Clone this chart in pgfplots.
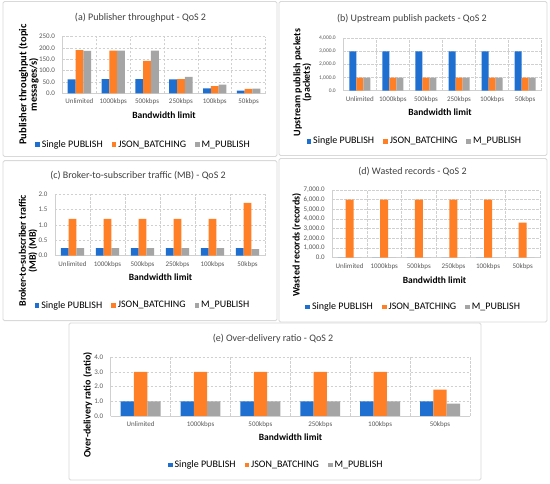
\documentclass[border=0pt]{standalone}
\usepackage{fontspec}
\setmainfont{Carlito}
\usepackage{pgfplots}
\pgfplotsset{compat=1.18}
\definecolor{cblue}{HTML}{1F6FD0}
\definecolor{corange}{HTML}{FF7F27}
\definecolor{cgray}{HTML}{A5A5A5}
\definecolor{gridc}{HTML}{D0D0D0}
\definecolor{boxc}{HTML}{D9D9D9}
\definecolor{txt}{HTML}{404040}
\definecolor{tick}{HTML}{595959}
\pgfplotsset{
  panel/.style={
    scale only axis,
    ybar=0pt,
    bar width=#1,
    every axis plot post/.append style={draw=none,
      legend image code/.code={\path[##1,draw=none] (0pt,-2.3pt) rectangle (4.6pt,2.3pt);}},
    xmin=-0.5, xmax=5.5, ymin=0,
    xtick={0,1,2,3,4,5},
    xticklabels={Unlimited,1000kbps,500kbps,250kbps,100kbps,50kbps},
    minor xtick={-0.5,0.5,1.5,2.5,3.5,4.5,5.5},
    xminorgrids=true, ymajorgrids=true, xmajorgrids=false,
    major grid style={gridc, dash pattern=on 2.5pt off 1.5pt, line width=0.6pt},
    minor grid style={gridc, dash pattern=on 2.5pt off 1.5pt, line width=0.6pt},
    axis x line=bottom, axis y line=left,
    axis line style={-, draw=gridc, line width=0.7pt},
    major tick length=0pt, minor tick length=0pt,
    /pgf/number format/assume math mode=true,
    tick label style={font=\fontsize{7}{8}\selectfont, text=tick},
    xticklabel style={yshift=-2pt},
    yticklabel style={xshift=-4pt, /pgf/number format/fixed, /pgf/number format/fixed zerofill, /pgf/number format/precision=1, /pgf/number format/1000 sep={,}},
    legend columns=3,
    legend style={draw=none, fill=none, anchor=center, font=\fontsize{10}{12}\selectfont,
      /tikz/every even column/.append style={column sep=7pt}},
  }
}
\begin{document}
\begin{tikzpicture}[x=1pt,y=1pt]
\path[use as bounding box, fill=white] (0,0) rectangle (550,484);
% panel frames
\draw[boxc, line width=0.9pt, rounded corners=1.5pt] (3,482.5) rectangle (277,327.5);
\draw[boxc, line width=0.9pt, rounded corners=1.5pt] (279,482.5) rectangle (547,328.5);
\draw[boxc, line width=0.9pt, rounded corners=1.5pt] (3,323.3) rectangle (277,163.3);
\draw[boxc, line width=0.9pt, rounded corners=1.5pt] (279,325.5) rectangle (547,162);
\draw[boxc, line width=0.9pt, rounded corners=1.5pt] (69,161) rectangle (481,4);

% (a)
\begin{axis}[panel=7.8pt, at={(62.5pt,390.7pt)}, anchor=south west, width=203pt, height=56.6pt,
  ymax=250, ytick={0,50,...,250},
  legend style={at={(axis description cs:0.399,-0.905)}}]
\addplot[fill=cblue] coordinates {(0,62) (1,63) (2,63) (3,62) (4,22) (5,12)};
\addplot[fill=corange] coordinates {(0,191) (1,189) (2,143) (3,63) (4,32) (5,19)};
\addplot[fill=cgray] coordinates {(0,187) (1,188) (2,188) (3,72) (4,38) (5,21)};
\legend{Single PUBLISH, JSON\_BATCHING, M\_PUBLISH}
\end{axis}
\node[font=\fontsize{10}{12}\selectfont, text=txt] at (140.5,466.7) {(a) Publisher throughput - QoS 2};
\node[font=\bfseries\fontsize{9.5}{11}\selectfont] at (164,368.3) {Bandwidth limit};
\node[rotate=90, align=center, font=\bfseries\fontsize{10.5}{10.5}\selectfont] at (28.5,399.5) {Publisher throughput (topic\\messages/s)};

% (b)
\begin{axis}[panel=7pt, at={(343.3pt,393.3pt)}, anchor=south west, width=198.4pt, height=52.4pt,
  ymax=4000, ytick={0,1000,...,4000},
  yticklabel style={font=\fontsize{5.5}{6}\selectfont},
  legend style={at={(axis description cs:0.361,-0.965)}}]
\addplot[fill=cblue] coordinates {(0,3000) (1,3000) (2,3000) (3,3000) (4,3000) (5,3000)};
\addplot[fill=corange] coordinates {(0,1000) (1,1000) (2,1000) (3,1000) (4,1000) (5,1000)};
\addplot[fill=cgray] coordinates {(0,1000) (1,1000) (2,1000) (3,1000) (4,1000) (5,1000)};
\legend{Single PUBLISH, JSON\_BATCHING, M\_PUBLISH}
\end{axis}
\node[font=\fontsize{10}{12}\selectfont, text=txt] at (412,465.7) {(b) Upstream publish packets - QoS 2};
\node[font=\bfseries\fontsize{9.5}{11}\selectfont] at (440,371.7) {Bandwidth limit};
\node[rotate=90, align=center, font=\bfseries\fontsize{10}{9.5}\selectfont] at (302.5,401.5) {Upstream publish packets\\(packets)};

% (c)
\begin{axis}[panel=7.8pt, at={(55pt,228.3pt)}, anchor=south west, width=210pt, height=61.4pt,
  ymax=2, ytick={0,0.5,...,2},
  legend style={at={(axis description cs:0.419,-0.811)}}]
\addplot[fill=cblue] coordinates {(0,0.25) (1,0.25) (2,0.25) (3,0.25) (4,0.25) (5,0.25)};
\addplot[fill=corange] coordinates {(0,1.2) (1,1.2) (2,1.2) (3,1.2) (4,1.2) (5,1.72)};
\addplot[fill=cgray] coordinates {(0,0.25) (1,0.25) (2,0.25) (3,0.25) (4,0.25) (5,0.21)};
\legend{Single PUBLISH, JSON\_BATCHING, M\_PUBLISH}
\end{axis}
\node[font=\fontsize{10}{12}\selectfont, text=txt] at (138,308.3) {(c) Broker-to-subscriber traffic (MB) - QoS 2};
\node[font=\bfseries\fontsize{9.5}{11}\selectfont] at (160.5,207) {Bandwidth limit};
\node[rotate=90, align=center, font=\bfseries\fontsize{10}{10}\selectfont] at (28,233.2) {Broker-to-subscriber traffic\\(MB) (MB)};

% (d)
\begin{axis}[panel=8pt, at={(332.3pt,226.3pt)}, anchor=south west, width=207.7pt, height=67.7pt,
  ymax=7000, ytick={0,1000,...,7000},
  legend style={at={(axis description cs:0.392,-0.731)}}]
\addplot[fill=cblue] coordinates {(0,0) (1,0) (2,0) (3,0) (4,0) (5,0)};
\addplot[fill=corange] coordinates {(0,6000) (1,6000) (2,6000) (3,6000) (4,6000) (5,3620)};
\addplot[fill=cgray] coordinates {(0,0) (1,0) (2,0) (3,0) (4,0) (5,0)};
\legend{Single PUBLISH, JSON\_BATCHING, M\_PUBLISH}
\end{axis}
\node[font=\fontsize{10}{12}\selectfont, text=txt] at (412.5,312.3) {(d) Wasted records - QoS 2};
\node[font=\bfseries\fontsize{9.5}{11}\selectfont] at (434.5,204) {Bandwidth limit};
\node[rotate=90, align=center, font=\bfseries\fontsize{10}{10}\selectfont] at (296.7,239) {Wasted records (records)};

% (e)
\begin{axis}[panel=13.3pt, at={(110.7pt,68pt)}, anchor=south west, width=359.3pt, height=58.7pt,
  ymax=4, ytick={0,1,...,4},
  legend style={at={(axis description cs:0.461,-0.835)}}]
\addplot[fill=cblue] coordinates {(0,1) (1,1) (2,1) (3,1) (4,1) (5,1)};
\addplot[fill=corange] coordinates {(0,3) (1,3) (2,3) (3,3) (4,3) (5,1.8)};
\addplot[fill=cgray] coordinates {(0,1) (1,1) (2,1) (3,1) (4,1) (5,0.85)};
\legend{Single PUBLISH, JSON\_BATCHING, M\_PUBLISH}
\end{axis}
\node[font=\fontsize{10}{12}\selectfont, text=txt] at (273,145) {(e) Over-delivery ratio - QoS 2};
\node[font=\bfseries\fontsize{9.5}{11}\selectfont] at (290.5,46.7) {Bandwidth limit};
\node[rotate=90, align=center, font=\bfseries\fontsize{10}{10}\selectfont] at (87.7,79) {Over-delivery ratio (ratio)};
\end{tikzpicture}
\end{document}
